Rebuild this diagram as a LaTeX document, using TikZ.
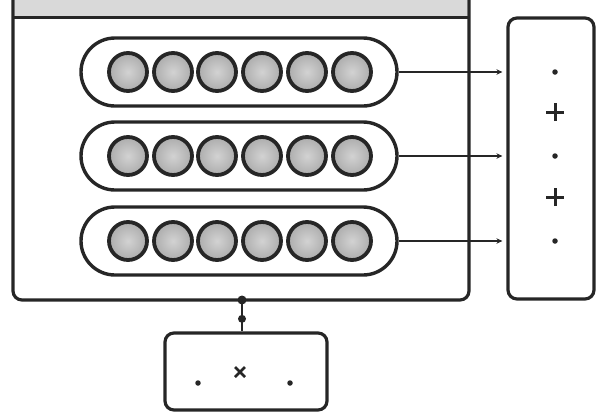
\documentclass[tikz,border=0pt]{standalone}
\usetikzlibrary{arrows.meta}
\begin{document}
\begin{tikzpicture}[x=1pt,y=-1pt,
  frame/.style={draw=black!85,line width=3.2pt,rounded corners=9pt,inner sep=0pt},
  pill/.style={draw=black!85,line width=3.4pt,minimum width=316pt,minimum height=68pt,rounded corners=34pt,inner sep=0pt},
  bead/.style={circle,draw=black!85,line width=3.8pt,inner color=gray!35,outer color=gray!65,minimum size=38pt,inner sep=0pt},
  link/.style={draw=black!85,line width=2pt,-{Stealth[length=6pt,width=5.5pt]}},
  dotmark/.style={circle,fill=black!85,minimum size=5.5pt,inner sep=0pt},
  sym/.style={draw=black!85,line width=3pt}
]
\useasboundingbox (0,0) rectangle (605,418);
\clip (0,0) rectangle (605,418);
% main box
\node[frame,minimum width=456pt,minimum height=312pt] (mainbox) at (241,144) {};
\fill[gray!30] (15,-10) rectangle (467,17);
\draw[black!85,line width=3.2pt] (13,17.5) -- (469,17.5);
% pills with beads
\foreach \r/\y in {1/72,2/156,3/241}{
  \node[pill] (pill\r) at (239,\y) {};
  \foreach \c/\x in {1/128,2/173,3/217,4/262,5/307,6/352}{
    \node[bead] (bead\r\c) at (\x,\y) {};
  }
}
% right box
\node[frame,minimum width=86pt,minimum height=281pt] (rbox) at (551,158.5) {};
\foreach \r/\y in {1/72,2/156,3/241}{
  \coordinate (in\r) at (rbox.west |- 0,\y);
  \draw[link,shorten >=4pt] (pill\r.east) -- (in\r);
  \node[dotmark] (rdot\r) at (555,\y) {};
}
\foreach \k/\y in {1/112,2/197}{
  \coordinate (plus\k) at (555,\y);
  \draw[sym] ([xshift=-9pt]plus\k) -- ([xshift=9pt]plus\k);
  \draw[sym] ([yshift=-9pt]plus\k) -- ([yshift=9pt]plus\k);
}
% bottom box
\node[frame,minimum width=162pt,minimum height=77pt] (bbox) at (246,371.5) {};
\node[dotmark] (bdot1) at (198,383) {};
\node[dotmark] (bdot2) at (290,383) {};
\coordinate (times) at (240,372);
\draw[sym,line width=2.6pt] ([shift={(-5pt,-5pt)}]times) -- ([shift={(5pt,5pt)}]times);
\draw[sym,line width=2.6pt] ([shift={(-5pt,5pt)}]times) -- ([shift={(5pt,-5pt)}]times);
% connector from main box to bottom box
\coordinate (jtop) at (242,300);
\coordinate (jbot) at (bbox.north -| 242,0);
\draw[black!85,line width=2.6pt] (jtop) -- (jbot) node[pos=0.6,dotmark,minimum size=8pt] (jmid) {};
\node[dotmark,minimum size=9pt] (jdot) at (jtop) {};
\end{tikzpicture}
\end{document}
